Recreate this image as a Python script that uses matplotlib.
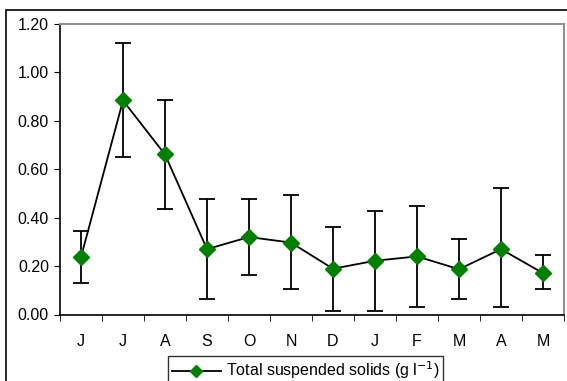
import matplotlib
matplotlib.use("Agg")
import matplotlib.pyplot as plt
from matplotlib.patches import Rectangle
from matplotlib.lines import Line2D
import numpy as np

plt.rcParams['font.family'] = ['Liberation Sans', 'DejaVu Sans']

months = ["J", "J", "A", "S", "O", "N", "D", "J", "F", "M", "A", "M"]
tss = [0.237, 0.884, 0.661, 0.270, 0.320, 0.297, 0.189, 0.222, 0.240, 0.187, 0.270, 0.171]
err_low = [0.131, 0.652, 0.436, 0.065, 0.163, 0.105, 0.015, 0.015, 0.030, 0.065, 0.030, 0.106]
err_high = [0.346, 1.123, 0.885, 0.476, 0.477, 0.494, 0.361, 0.429, 0.447, 0.310, 0.521, 0.247]
yticks = [0.0, 0.2, 0.4, 0.6, 0.8, 1.0, 1.2]
legend_label = "Total suspended solids (g l$^{-1}$)"

W, H = 567, 381
FS = 11.5
fig = plt.figure(figsize=(W / 100, H / 100), dpi=100)
ax = fig.add_axes([60 / W, 1 - 314.5 / H, 504 / W, (314.5 - 24) / H])

x = np.arange(len(months))
vals = np.array(tss)
lo = vals - np.array(err_low)
hi = np.array(err_high) - vals
ax.errorbar(x, vals, yerr=[lo, hi], color='black', lw=1.3, elinewidth=1.3,
            capsize=6, capthick=1.3, marker='D', markersize=8.5,
            markerfacecolor='#008000', markeredgecolor='#008000', zorder=3)

ax.set_xlim(-0.5, len(months) - 0.5)
ax.set_ylim(0, 1.2)
ax.set_yticks(yticks)
ax.set_yticklabels([f"{v:.2f}" for v in yticks], fontsize=FS)
ax.set_xticks(x)
ax.set_xticklabels(months, fontsize=FS)
ax.set_xticks(np.arange(len(months) + 1) - 0.5, minor=True)
ax.tick_params(axis='x', which='major', length=0, pad=14)
ax.tick_params(axis='x', which='minor', length=4, direction='out', color='black')
ax.tick_params(axis='y', length=4, direction='out', pad=4)
for s in ['top', 'right']:
    ax.spines[s].set_color('#909090')
    ax.spines[s].set_linewidth(1.5)
for s in ['left', 'bottom']:
    ax.spines[s].set_color('black')
    ax.spines[s].set_linewidth(1.2)

# outer chart frame (extends beyond the crop)
fig.patches.append(Rectangle((6 / W, -0.1), 1.2, 1 - 10 / H + 0.1, transform=fig.transFigure,
                             fill=False, edgecolor='black', lw=1.2))

handle = Line2D([], [], color='black', lw=1.3, marker='D', markersize=6,
                markerfacecolor='#008000', markeredgecolor='#008000')
leg = ax.legend([handle], [legend_label], loc='upper left',
                bbox_to_anchor=(168 / W, 1 - 356 / H),
                bbox_transform=fig.transFigure, frameon=True, fancybox=False,
                fontsize=FS, handlelength=3.1, borderpad=0.22, handletextpad=0.3,
                borderaxespad=0)
leg.get_frame().set_edgecolor('black')
leg.get_frame().set_linewidth(1.0)

fig.savefig("out.png", dpi=100)
